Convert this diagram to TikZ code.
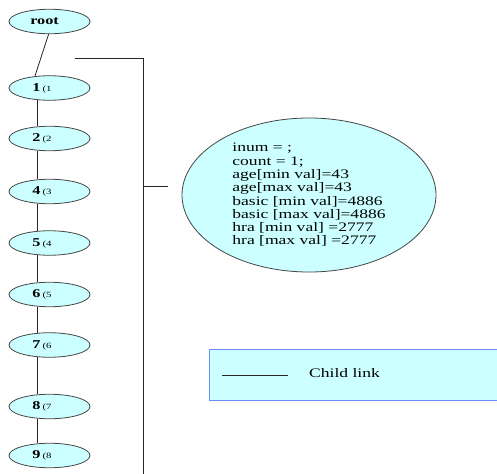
\documentclass[tikz,border=0pt]{standalone}
\usepackage{fontspec}
\setmainfont{Liberation Serif}[FakeStretch=1.35]
\usetikzlibrary{shapes.geometric}
\definecolor{nodefill}{RGB}{204,255,255}
\definecolor{nodeline}{RGB}{70,70,70}
\definecolor{legline}{RGB}{110,140,245}
\tikzset{
  treenode/.style={ellipse, draw=nodeline, line width=0.8pt, fill=nodefill,
    minimum width=81pt, minimum height=24.5pt, inner sep=0pt,
    font=\fontsize{12}{13}\selectfont\bfseries},
  infonode/.style={ellipse, draw=nodeline, line width=0.8pt, fill=nodefill,
    minimum width=254pt, minimum height=154pt, inner sep=0pt, align=left,
    font=\fontsize{13}{13.3}\selectfont},
  link/.style={draw=black!85, line width=0.8pt},
  legendbox/.style={draw=legline, line width=1.2pt, fill=nodefill,
    minimum width=300pt, minimum height=51pt, anchor=north west, inner sep=0pt},
}
\newcommand{\lbl}[2]{#1\,{\fontsize{8}{9}\selectfont\mdseries(#2}\hspace*{15pt}}
\begin{document}
\begin{tikzpicture}[x=1pt,y=-1pt]
\useasboundingbox (0,0) rectangle (497,473);
\begin{scope}
\clip (0,0) rectangle (497,473);
% bracket lines
\coordinate (b1) at (75,58);
\coordinate (b2) at (143,58);
\coordinate (b3) at (143,475);
\coordinate (b4) at (143,186);
\coordinate (b5) at (168,186);
\draw[link] (b1) -- (b2) -- (b3);
\draw[link] (b4) -- (b5);
% tree nodes
\node[treenode] (root) at (49.5,21.5) {root\hspace*{10pt}};
\node[treenode] (n1) at (49.5,88) {\lbl{1}{1}};
\node[treenode] (n2) at (49.5,138.5) {\lbl{2}{2}};
\node[treenode] (n4) at (49.5,191.5) {\lbl{4}{3}};
\node[treenode] (n5) at (49.5,243) {\lbl{5}{4}};
\node[treenode] (n6) at (49.5,294.5) {\lbl{6}{5}};
\node[treenode] (n7) at (49.5,345) {\lbl{7}{6}};
\node[treenode] (n8) at (49.5,406.5) {\lbl{8}{7}};
\node[treenode] (n9) at (49.5,455.5) {\lbl{9}{8}};
% connectors
\draw[link] (root.266) -- (n1.141);
\draw[link] (n1.224) -- (n2.136);
\draw[link] (n2.224) -- (n4.136);
\draw[link] (n4.224) -- (n5.136);
\draw[link] (n5.224) -- (n6.136);
\draw[link] (n6.224) -- (n7.136);
\draw[link] (n7.224) -- (n8.136);
\draw[link] (n8.224) -- (n9.136);
% info ellipse
\node[infonode] (info) at (309,195) {inum = ;\\count = 1;\\age[min val]=43\\age[max val]=43\\basic [min val]=4886\\basic [max val]=4886\\hra [min val] =2777\\hra [max val] =2777};
% legend
\node[legendbox] (legend) at (209,349) {};
\coordinate (la) at (222,375);
\coordinate (lb) at (288,375);
\draw[link] (la) -- (lb);
\node[anchor=west, inner sep=0pt, font=\fontsize{13}{14}\selectfont] (ltext) at (309,373.5) {Child link};
\end{scope}
\end{tikzpicture}
\end{document}
